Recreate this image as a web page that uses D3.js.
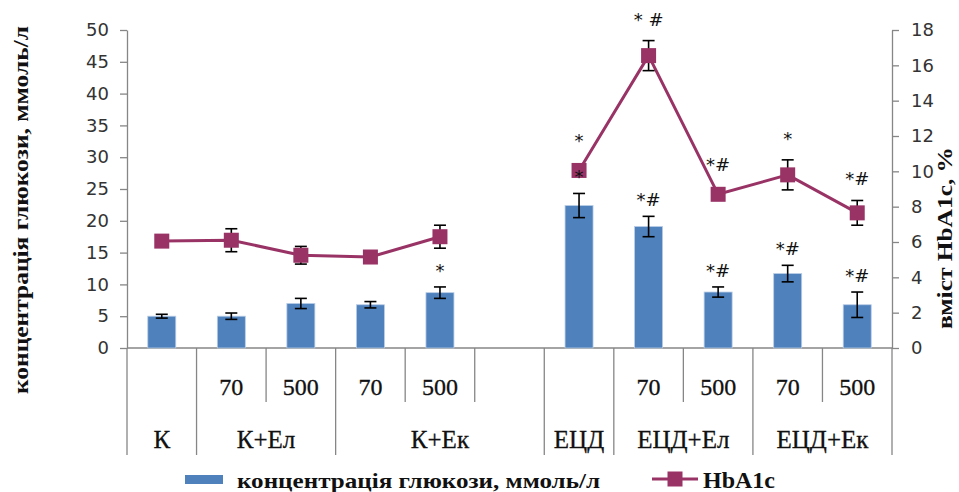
<!DOCTYPE html>
<html><head><meta charset="utf-8">
<script src="https://cdn.jsdelivr.net/npm/d3@7"></script>
<style>body{margin:0;background:#fff}svg{display:block}</style>
</head><body>
<svg id="c" width="959" height="492"></svg>
<script>
// ---- data ----
const categories = ["К","70","500","70","500","","ЕЦД","70","500","70","500"];
const groups = [
  {label:"К", start:0, span:1},
  {label:"К+Ел", start:1, span:2},
  {label:"К+Ек", start:3, span:3},
  {label:"ЕЦД", start:6, span:1},
  {label:"ЕЦД+Ел", start:7, span:2},
  {label:"ЕЦД+Ек", start:9, span:2}
];
const glucose    = [5.0, 5.0, 7.0, 6.8, 8.7, null, 22.4, 19.1, 8.8, 11.7, 6.8];
const glucoseErr = [0.3, 0.5, 0.8, 0.5, 0.9, null, 1.9, 1.6, 0.8, 1.3, 2.0];
const hba1c      = [6.05, 6.1, 5.25, 5.15, 6.3, null, 10.05, 16.55, 8.7, 9.8, 7.65];
const hba1cErr   = [0, 0.65, 0.5, 0.3, 0.65, null, 0, 0.85, 0, 0.85, 0.7];
const barMarks   = ["", "", "", "", "*", "", "*", "*#", "*#", "*#", "*#"];
const lineMarks  = ["", "", "", "", "", "", "*", "* #", "*#", "*", "*#"];
const leftTicks  = [0,5,10,15,20,25,30,35,40,45,50];
const rightTicks = [0,2,4,6,8,10,12,14,16,18];
const leftTitle  = "концентрація глюкози, ммоль/л";
const rightTitle = "вміст HbA1c, %";
const legendBar  = "концентрація глюкози, ммоль/л";
const legendLine = "HbA1c";

// ---- layout ----
const svg = d3.select("#c");
const X0 = 127, X1 = 892, Y0 = 348, Y1 = 30;
const x = d3.scaleBand().domain(d3.range(categories.length)).range([X0, X1]).padding(0);
const yL = d3.scaleLinear().domain([0,50]).range([Y0, Y1]);
const yR = d3.scaleLinear().domain([0,18]).range([Y0, Y1]);
const axisColor = "#868686";
const barColor = "#4F81BD";
const lineColor = "#993366";
const serif = "'Liberation Serif', 'Times New Roman', serif";
const sans = "'DejaVu Sans', sans-serif";

// left axis
const gL = svg.append("g").attr("transform", `translate(${X0},0)`)
  .call(d3.axisLeft(yL).tickValues(leftTicks).tickSize(7).tickPadding(11).tickSizeOuter(0));
// right axis
const gR = svg.append("g").attr("transform", `translate(${X1},0)`)
  .call(d3.axisRight(yR).tickValues(rightTicks).tickSize(7).tickPadding(12).tickSizeOuter(0));
[gL, gR].forEach(g => {
  g.selectAll("path,line").attr("stroke", axisColor).attr("stroke-width", 1.3);
  g.selectAll("text").attr("font-family", sans).attr("font-size", 18).attr("fill", "#333");
});

// bottom axis line
svg.append("line").attr("x1", X0).attr("x2", X1).attr("y1", Y0).attr("y2", Y0)
  .attr("stroke", axisColor).attr("stroke-width", 1.3);

// category separators
const groupStarts = new Set(groups.map(g => g.start));
const bounds = d3.range(categories.length + 1);
svg.selectAll("line.sep").data(bounds).join("line")
  .attr("class","sep")
  .attr("x1", i => i < categories.length ? x(i) : X1)
  .attr("x2", i => i < categories.length ? x(i) : X1)
  .attr("y1", Y0)
  .attr("y2", i => (i === 0 || i === categories.length || groupStarts.has(i)) ? 455 : 402)
  .attr("stroke", axisColor).attr("stroke-width", 1.3);

// sub-category labels
const singles = new Set(groups.filter(g => g.span === 1).map(g => g.start));
svg.selectAll("text.sub").data(categories.map((c,i)=>({c,i})).filter(d => !singles.has(d.i) && d.c))
  .join("text").attr("class","sub")
  .attr("x", d => x(d.i) + x.bandwidth()/2)
  .attr("y", 395)
  .attr("text-anchor","middle")
  .attr("font-family", serif).attr("font-size", 24).attr("fill","#111")
  .attr("stroke","#111").attr("stroke-width",0.3)
  .text(d => d.c);

// group labels
svg.selectAll("text.grp").data(groups).join("text").attr("class","grp")
  .attr("x", g => x(g.start) + x.bandwidth()*g.span/2)
  .attr("y", 448)
  .attr("text-anchor","middle")
  .attr("font-family", serif).attr("font-size", 25).attr("fill","#111")
  .attr("stroke","#111").attr("stroke-width",0.3)
  .text(g => g.label);

// bars
const bw = 28;
const idx = d3.range(categories.length).filter(i => glucose[i] != null);
svg.selectAll("rect.bar").data(idx).join("rect").attr("class","bar")
  .attr("x", i => x(i) + x.bandwidth()/2 - bw/2)
  .attr("y", i => yL(glucose[i]))
  .attr("width", bw)
  .attr("height", i => Y0 - yL(glucose[i]))
  .attr("fill", barColor).attr("stroke", "#b9cde5").attr("stroke-width", 0.8);

// bar error bars
const cap = 6;
const eb = svg.append("g").attr("stroke","#000").attr("stroke-width",1.6);
idx.forEach(i => {
  const cx = x(i) + x.bandwidth()/2;
  const t = yL(glucose[i] + glucoseErr[i]), b = yL(glucose[i] - glucoseErr[i]);
  eb.append("line").attr("x1",cx).attr("x2",cx).attr("y1",t).attr("y2",b);
  eb.append("line").attr("x1",cx-cap).attr("x2",cx+cap).attr("y1",t).attr("y2",t);
  eb.append("line").attr("x1",cx-cap).attr("x2",cx+cap).attr("y1",b).attr("y2",b);
});

// line
const lineGen = d3.line()
  .defined(i => hba1c[i] != null)
  .x(i => x(i) + x.bandwidth()/2)
  .y(i => yR(hba1c[i]));
svg.append("path").datum(d3.range(categories.length))
  .attr("d", lineGen).attr("fill","none").attr("stroke", lineColor).attr("stroke-width", 3);

// line error bars
const el = svg.append("g").attr("stroke","#000").attr("stroke-width",1.6);
idx.forEach(i => {
  if (!hba1cErr[i]) return;
  const cx = x(i) + x.bandwidth()/2;
  const t = yR(hba1c[i] + hba1cErr[i]), b = yR(hba1c[i] - hba1cErr[i]);
  el.append("line").attr("x1",cx).attr("x2",cx).attr("y1",t).attr("y2",b);
  el.append("line").attr("x1",cx-cap).attr("x2",cx+cap).attr("y1",t).attr("y2",t);
  el.append("line").attr("x1",cx-cap).attr("x2",cx+cap).attr("y1",b).attr("y2",b);
});

// markers
const ms = 15;
svg.selectAll("rect.mk").data(idx).join("rect").attr("class","mk")
  .attr("x", i => x(i) + x.bandwidth()/2 - ms/2)
  .attr("y", i => yR(hba1c[i]) - ms/2)
  .attr("width", ms).attr("height", ms)
  .attr("fill", lineColor);

// significance marks
svg.selectAll("text.bm").data(idx.filter(i => barMarks[i])).join("text").attr("class","bm")
  .attr("x", i => x(i) + x.bandwidth()/2)
  .attr("y", i => yL(glucose[i] + glucoseErr[i]) - 10)
  .attr("text-anchor","middle")
  .attr("font-family", sans).attr("font-size", 18).attr("fill","#111")
  .text(i => barMarks[i]);
svg.selectAll("text.lm").data(idx.filter(i => lineMarks[i])).join("text").attr("class","lm")
  .attr("x", i => x(i) + x.bandwidth()/2)
  .attr("y", i => Math.min(yR(hba1c[i] + hba1cErr[i]), yR(hba1c[i]) - 8) - 15)
  .attr("text-anchor","middle")
  .attr("font-family", sans).attr("font-size", 18).attr("fill","#111")
  .text(i => lineMarks[i]);

// axis titles
svg.append("text")
  .attr("transform", `translate(28,210) rotate(-90)`)
  .attr("text-anchor","middle")
  .attr("font-family", serif).attr("font-weight","bold").attr("font-size", 22).attr("fill","#111")
  .attr("textLength", 368).attr("lengthAdjust","spacingAndGlyphs")
  .text(leftTitle);
svg.append("text")
  .attr("transform", `translate(952,238) rotate(-90)`)
  .attr("text-anchor","middle")
  .attr("font-family", serif).attr("font-weight","bold").attr("font-size", 22).attr("fill","#111")
  .attr("textLength", 182).attr("lengthAdjust","spacingAndGlyphs")
  .text(rightTitle);

// legend
svg.append("rect").attr("x",185).attr("y",475).attr("width",38).attr("height",9).attr("fill",barColor);
svg.append("text").attr("x",237).attr("y",488)
  .attr("font-family", serif).attr("font-weight","bold").attr("font-size", 22).attr("fill","#111")
  .attr("textLength", 363).attr("lengthAdjust","spacingAndGlyphs")
  .text(legendBar);
svg.append("line").attr("x1",652).attr("x2",698).attr("y1",479).attr("y2",479)
  .attr("stroke",lineColor).attr("stroke-width",3);
svg.append("rect").attr("x",675-7.5).attr("y",479-7.5).attr("width",15).attr("height",15).attr("fill",lineColor);
svg.append("text").attr("x",703).attr("y",488)
  .attr("font-family", serif).attr("font-weight","bold").attr("font-size", 23).attr("fill","#111")
  .attr("textLength", 72).attr("lengthAdjust","spacingAndGlyphs")
  .text(legendLine);
</script>
</body></html>
